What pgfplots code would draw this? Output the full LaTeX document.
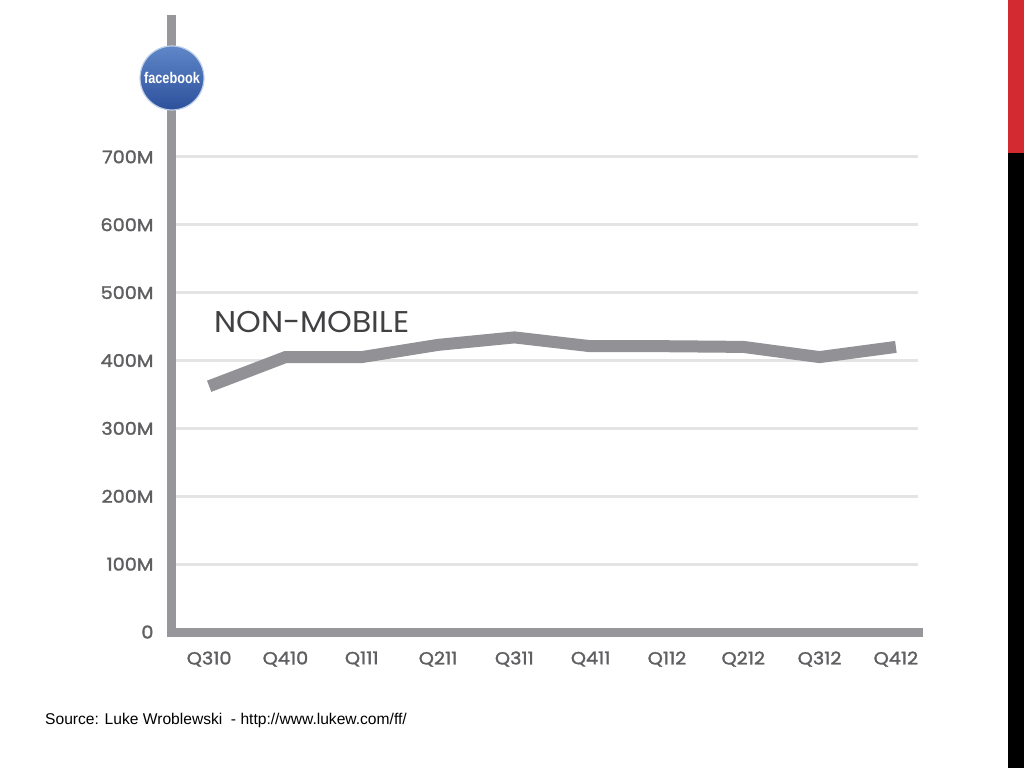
\documentclass[border=0pt]{standalone}
\usepackage{pgfplots}
\pgfplotsset{compat=1.18}
\usepackage{fontspec}
\setmainfont{Liberation Sans}
\newfontfamily\pop{Poppins}[FakeStretch=1.05]
\newfontfamily\popb{Poppins}[FakeBold=1.6, FakeStretch=1.1]
\newfontfamily\fbf{Liberation Sans}[FakeStretch=0.82]
\definecolor{axgray}{RGB}{150,150,155}
\definecolor{gridgray}{RGB}{228,228,228}
\definecolor{labgray}{RGB}{95,95,98}
\definecolor{linegray}{RGB}{145,145,150}
\definecolor{textdark}{RGB}{65,65,68}
\definecolor{barred}{RGB}{210,42,48}
\definecolor{fbtop}{RGB}{95,135,200}
\definecolor{fbbot}{RGB}{45,80,155}
\begin{document}
\begin{tikzpicture}[x=1pt,y=1pt]
\path[use as bounding box] (0,0) rectangle (1024,768);
\fill[barred] (1008,615) rectangle (1024,768);
\fill[black] (1008,0) rectangle (1024,615);
\begin{axis}[
  at={(171pt,136pt)}, anchor=south west,
  scale only axis, width=747pt, height=612pt,
  xmin=-0.5, xmax=9.29, ymin=0, ymax=901.6,
  axis lines=left,
  axis line style={-, draw=axgray, line width=9pt, line cap=rect},
  xtick={0,...,9},
  xticklabels={Q310,Q410,Q111,Q211,Q311,Q411,Q112,Q212,Q312,Q412},
  ytick={0,100,200,300,400,500,600,700},
  yticklabels={0,100M,200M,300M,400M,500M,600M,700M},
  major tick length=0pt,
  ymajorgrids,
  grid style={line width=3pt, color=gridgray},
  tick label style={font=\popb\fontsize{17.5}{17.5}\selectfont, text=labgray},
  yticklabel style={xshift=-14pt},
  xticklabel style={yshift=-16pt},
  clip=false,
]
\addplot[line width=12pt, color=linegray, line join=miter] coordinates {
(0,362)(1,405)(2,405)(3,423)(4,434)(5,421)(6,421)(7,420)(8,405)(9,420)};
\end{axis}
\node[anchor=west, font=\pop\fontsize{30}{30}\selectfont, text=textdark, inner sep=0pt] at (214,446) {NON-MOBILE};
\shade[top color=fbtop, bottom color=fbbot, draw=white!60!fbtop, line width=1.2pt] (172,690) circle (32);
\node[font=\fbf\bfseries\fontsize{15.5}{15.5}\selectfont, text=white] at (172,690) {facebook};
\node[anchor=west, font=\fontsize{15.6}{15.6}\selectfont, inner sep=0pt] at (45,48) {Source: Luke Wroblewski\ \ - http://www.lukew.com/ff/};
\end{tikzpicture}
\end{document}
